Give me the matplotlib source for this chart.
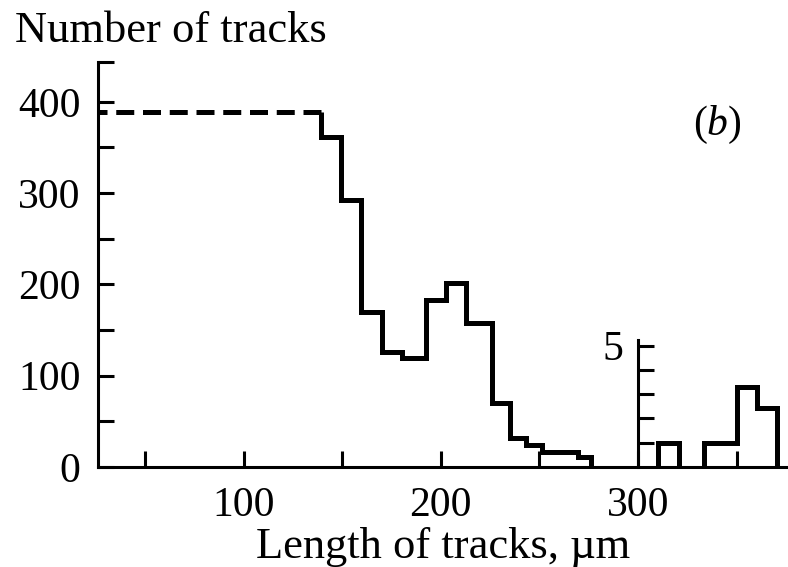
import matplotlib
matplotlib.use("Agg")
import matplotlib.pyplot as plt

plt.rcParams['font.family'] = ['Liberation Serif', 'DejaVu Serif']
plt.rcParams['mathtext.fontset'] = 'custom'
plt.rcParams['mathtext.rm'] = 'Liberation Serif'
plt.rcParams['mathtext.it'] = 'Liberation Serif:italic'

# Track-length histogram (main panel), lengths in um
first_bin_level = 389          # long tracks below ~139 um (shown dashed)
first_bin_end = 139.1
edges = [139.1, 149.2, 159.5, 170.0, 180.2, 192.3, 202.5, 212.8,
         225.8, 235.3, 243.2, 251.3, 269.6, 276.2]
counts = [361, 292, 170, 126, 119, 183, 202, 158, 70, 32, 24, 16, 11]

# Tail of the distribution (inset, separate count scale)
tail_edges_a = [310.1, 320.8]
tail_counts_a = [1]
tail_edges_b = [333.5, 350.1, 360.2, 370.2]
tail_counts_b = [1, 3.3, 2.45]

x_major = [100, 200, 300]
x_minor = [50, 150, 250, 350]
y_major = [0, 100, 200, 300, 400]
y_minor = [50, 150, 250, 350]

XMIN, XMAX = 26.2, 376
YMAX = 443.9

fig = plt.figure(figsize=(7.88, 5.67), dpi=100)
ax = fig.add_axes([98 / 788, 100 / 567, 690 / 788, 405.3 / 567])

LW_HIST = 3.6
LW_AX = 2.2
TICK_LEN = 11.5
FS = 30

# dashed first bin, drawn from the bin edge back toward the axis
ax.plot([first_bin_end, XMIN], [first_bin_level, first_bin_level],
        color='black', lw=LW_HIST, linestyle=(0, (3.6, 1.75)),
        dash_capstyle='butt', clip_on=False, zorder=3)

# solid step outline for the remaining bins
xs = [edges[0]] + edges[:-1] + [edges[-1]]
ys = [first_bin_level] + counts + [0]
ax.plot(xs, ys, drawstyle='steps-post', color='black', lw=LW_HIST,
        solid_joinstyle='miter', solid_capstyle='butt', zorder=3)

ax.set_xlim(XMIN, XMAX)
ax.set_ylim(0, YMAX)
for side in ('top', 'right'):
    ax.spines[side].set_visible(False)
for side in ('left', 'bottom'):
    ax.spines[side].set_linewidth(LW_AX)

ax.set_xticks(x_major)
ax.set_xticks(x_minor, minor=True)
ax.set_yticks(y_major)
ax.set_yticks(y_minor + [YMAX], minor=True)
ax.tick_params(which='both', direction='in', length=TICK_LEN, width=LW_AX,
               labelsize=FS)
ax.tick_params(axis='x', pad=14)
ax.tick_params(axis='y', pad=12.5)

fig.text(15 / 788, 1 - 42.3 / 567, 'Number of tracks', fontsize=32,
         va='baseline', ha='left')
fig.text(443 / 788, 1 - 558 / 567, 'Length of tracks, µm', fontsize=32,
         va='baseline', ha='center')
ax.text(0.897, 0.845, r'$(b)$', transform=ax.transAxes, fontsize=FS,
        ha='center', va='center')

# inset with its own count axis for the long-track tail
inset_top = (467 - 340) / 0.9133
axi = ax.inset_axes([300, 0, XMAX - 300, inset_top], transform=ax.transData)
axi.set_facecolor('none')
axi.set_xlim(300, XMAX)
axi.set_ylim(0, 5.23)
for side in ('top', 'right', 'bottom'):
    axi.spines[side].set_visible(False)
axi.spines['left'].set_linewidth(LW_AX)
axi.stairs(tail_counts_a, tail_edges_a, baseline=0, color='black',
           lw=LW_HIST, joinstyle='miter')
axi.stairs(tail_counts_b, tail_edges_b, baseline=0, color='black',
           lw=LW_HIST, joinstyle='miter')
axi.set_xticks([])
axi.set_yticks([1, 2, 3, 4, 5], labels=['', '', '', '', '5'])
axi.tick_params(direction='in', length=TICK_LEN, width=LW_AX, labelsize=FS,
                pad=10.5)

fig.savefig('out.png', dpi=100)
